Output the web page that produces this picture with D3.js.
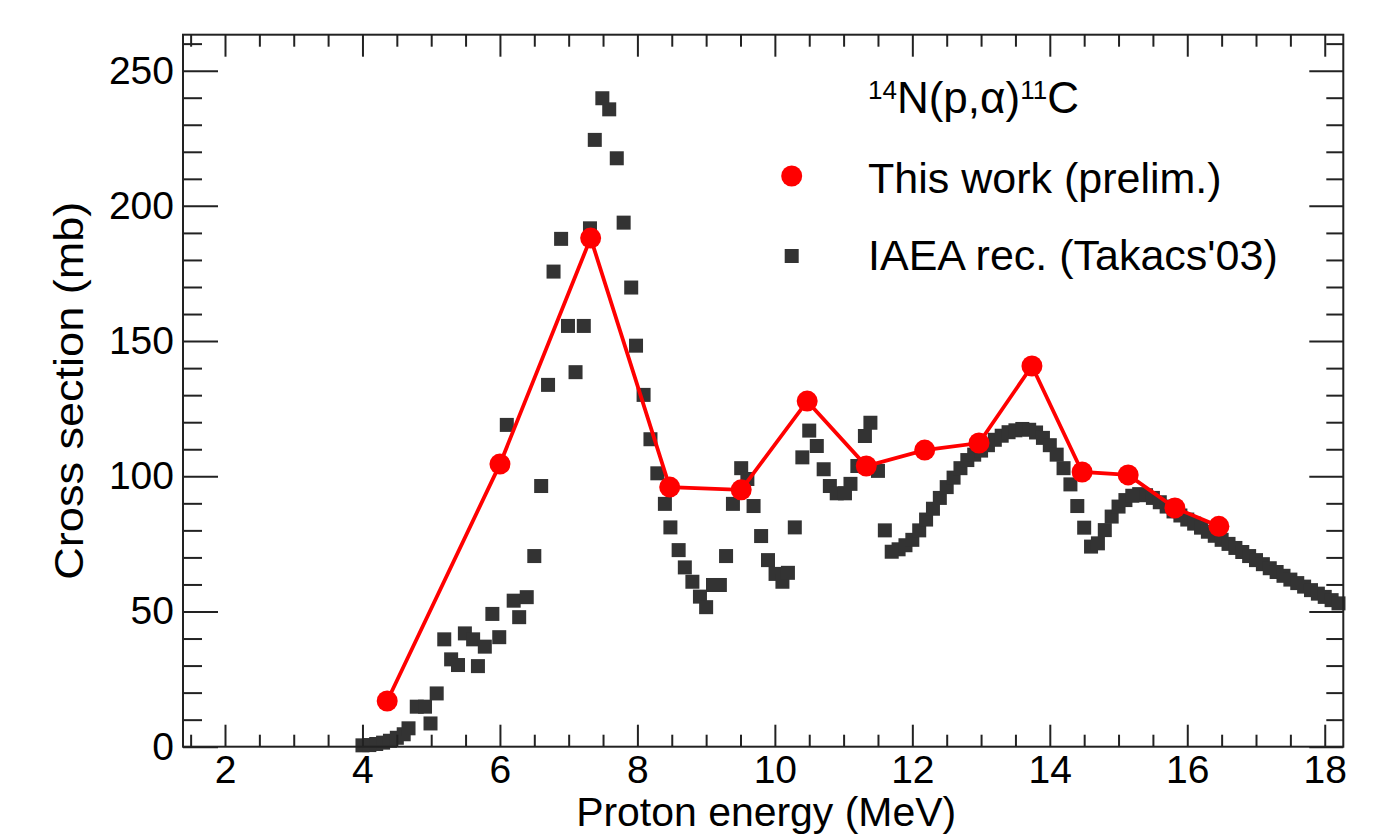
<!DOCTYPE html>
<html>
<head>
<meta charset="utf-8">
<script src="https://cdn.jsdelivr.net/npm/d3@7"></script>
<style>
  body { margin: 0; background: #fff; }
  text { font-family: "Liberation Sans", Arial, Helvetica, sans-serif; fill: #000; }
</style>
</head>
<body>
<script>
    //Data - this work (prelim.)
        const workE  = [4.36, 6.0, 7.32, 8.47, 9.51, 10.47, 11.33, 12.18, 12.97, 13.74, 14.47, 15.14, 15.82, 16.46];
        const workXS = [16.9, 104.5, 188.1, 96.0, 95.0, 127.8, 103.8, 109.7, 112.3, 140.8, 101.6, 100.5, 88.3, 81.5];

    //Data - IAEA recommended (Takacs'03)
        const iaeaE = [4.0, 4.1, 4.2, 4.3, 4.4, 4.5, 4.6, 4.67, 4.79, 4.91, 4.99, 5.08, 5.19, 5.29, 5.39, 5.49,
            5.61, 5.68, 5.78, 5.89, 5.99, 6.1, 6.2, 6.28, 6.39, 6.5, 6.6, 6.7, 6.78, 6.89, 6.99, 7.1, 7.22, 7.31,
            7.38, 7.49, 7.59, 7.7, 7.8, 7.91, 7.98, 8.09, 8.19, 8.29, 8.4, 8.48, 8.6, 8.69, 8.8, 8.91, 9.0, 9.1,
            9.2, 9.29, 9.39, 9.51, 9.6, 9.69, 9.8, 9.9, 10.01, 10.11, 10.19, 10.29, 10.4, 10.5, 10.61, 10.71, 10.8,
            10.9, 11.02, 11.1, 11.2, 11.31, 11.39, 11.5, 11.6, 11.7,
            11.8, 11.9, 12.0, 12.1, 12.2, 12.3, 12.4, 12.5, 12.6, 12.7, 12.8, 12.9, 13.0, 13.1, 13.2, 13.3, 13.4,
            13.5, 13.6, 13.7, 13.8, 13.9, 14.0, 14.1, 14.2, 14.3, 14.4, 14.5, 14.6, 14.7, 14.8, 14.9, 15.0, 15.1,
            15.2, 15.3, 15.4, 15.5, 15.6, 15.7, 15.8, 15.9, 16.0, 16.1, 16.2, 16.3, 16.4, 16.5, 16.6, 16.7, 16.8,
            16.9, 17.0, 17.1, 17.2, 17.3, 17.4, 17.5, 17.6, 17.7, 17.8, 17.9, 18.0, 18.1, 18.2];
        const iaeaXS = [0.5, 0.6, 1.0, 1.5, 2.2, 3.3, 4.6, 6.8, 14.8, 14.8, 8.6, 19.7, 39.7, 32.3, 30.2, 41.9,
            39.7, 29.8, 37.0, 49.1, 40.5, 119.0, 54.0, 47.9, 55.3, 70.5, 96.4, 133.8, 175.7, 187.8, 155.6, 138.5, 155.6, 191.7,
            224.4, 239.8, 235.7, 217.6, 193.8, 169.8, 148.3, 130.1, 113.7, 101.1, 89.8, 81.1, 72.7, 66.3, 61.0, 55.5, 51.6, 59.8,
            59.8, 70.5, 89.8, 103.0, 99.0, 89.0, 77.9, 69.0, 63.9, 61.0, 64.3, 81.1, 107.0, 116.9, 111.2, 102.6, 96.4,
            93.7, 93.7, 97.2, 103.8, 114.9, 119.8, 102.0, 80.0, 72.1,
            73.0, 74.5, 76.5, 80.0, 84.0, 88.0, 92.0, 96.0, 99.5, 103.0, 106.0, 108.0, 109.5, 111.5, 113.5, 115.0, 116.3,
            117.0, 117.5, 117.2, 116.2, 114.2, 111.5, 108.0, 103.0, 97.0, 89.0, 81.0, 74.0, 75.2, 80.1, 85.1, 88.8, 91.2,
            92.8, 93.4, 93.0, 92.0, 90.4, 88.8, 87.0, 85.5, 84.0, 82.5, 81.0, 79.5, 78.0, 76.5, 75.0, 73.5, 72.0,
            70.5, 69.0, 67.5, 66.0, 64.6, 63.2, 61.8, 60.5, 59.2, 57.9, 56.6, 55.4, 54.2, 53.0];

    //Axis ticks and labels
        const xMajor = [2, 4, 6, 8, 10, 12, 14, 16, 18];
        const yMajor = [0, 50, 100, 150, 200, 250];
        const xTitle = "Proton energy (MeV)";
        const yTitle = "Cross section (mb)";
        const legendLabels = ["This work (prelim.)", "IAEA rec. (Takacs'03)"];

    //Declare consts
        const width = 1382;
        const height = 834;
        const plotLeft = 183, plotRight = 1343.3, plotTop = 34.7, plotBottom = 746.7;
        const red = "#ff0000";
        const grey = "#333333";
        const ink = "#222";

    //Scales
        const xScale = d3.scaleLinear()
                        .domain([1.389, 18.27])
                        .range([plotLeft, plotRight]);

        const yScale = d3.scaleLinear()
                        .domain([0, 263.3])
                        .range([plotBottom, plotTop]);

        const xMinor = d3.range(1.5, 18.26, 0.5).filter(v => !xMajor.includes(v));
        const yMinor = d3.range(0, 263, 10).filter(v => !yMajor.includes(v));

    //SVG
        const svg = d3.select("body")
                    .append("svg")
                    .attr("width", width)
                    .attr("height", height);

    //IAEA squares
        const iaea = iaeaE.map((e, i) => ({e: e, xs: iaeaXS[i]}));
        svg.append("g")
            .selectAll("rect")
            .data(iaea)
            .enter()
            .append("rect")
            .attr("x", d => xScale(d.e) - 7)
            .attr("y", d => yScale(d.xs) - 7)
            .attr("width", 14)
            .attr("height", 14)
            .attr("fill", grey);

    //This work - line and circles
        const work = workE.map((e, i) => ({e: e, xs: workXS[i]}));
        const line = d3.line()
                    .x(d => xScale(d.e))
                    .y(d => yScale(d.xs));

        svg.append("path")
            .datum(work)
            .attr("d", line)
            .attr("fill", "none")
            .attr("stroke", red)
            .attr("stroke-width", 3.8);

        svg.append("g")
            .selectAll("circle")
            .data(work)
            .enter()
            .append("circle")
            .attr("cx", d => xScale(d.e))
            .attr("cy", d => yScale(d.xs))
            .attr("r", 10.5)
            .attr("fill", red);

    //Axes - ticks on all four sides, pointing inward
        function styleAxis(g) {
            g.select(".domain").remove();
            g.selectAll("line").attr("stroke", ink).attr("stroke-width", 2);
            g.selectAll("text").attr("font-size", 39).attr("fill", "#000");
        }

        svg.append("g")
            .attr("transform", "translate(0," + plotBottom + ")")
            .call(d3.axisBottom(xScale).tickValues(xMajor).tickSize(-22).tickPadding(9).tickFormat(d3.format("d")))
            .call(styleAxis)
            .call(g => g.selectAll("text").attr("y", 9));
        svg.append("g")
            .attr("transform", "translate(0," + plotBottom + ")")
            .call(d3.axisBottom(xScale).tickValues(xMinor).tickSize(-12).tickFormat(""))
            .call(styleAxis);

        svg.append("g")
            .attr("transform", "translate(0," + plotTop + ")")
            .call(d3.axisTop(xScale).tickValues(xMajor).tickSize(-22).tickFormat(""))
            .call(styleAxis);
        svg.append("g")
            .attr("transform", "translate(0," + plotTop + ")")
            .call(d3.axisTop(xScale).tickValues(xMinor).tickSize(-12).tickFormat(""))
            .call(styleAxis);

        svg.append("g")
            .attr("transform", "translate(" + plotLeft + ",0)")
            .call(d3.axisLeft(yScale).tickValues(yMajor).tickSize(-35).tickPadding(9).tickFormat(d3.format("d")))
            .call(styleAxis)
            .call(g => g.selectAll("text").attr("x", -9));
        svg.append("g")
            .attr("transform", "translate(" + plotLeft + ",0)")
            .call(d3.axisLeft(yScale).tickValues(yMinor).tickSize(-19).tickFormat(""))
            .call(styleAxis);

        svg.append("g")
            .attr("transform", "translate(" + plotRight + ",0)")
            .call(d3.axisRight(yScale).tickValues(yMajor).tickSize(-34).tickFormat(""))
            .call(styleAxis);
        svg.append("g")
            .attr("transform", "translate(" + plotRight + ",0)")
            .call(d3.axisRight(yScale).tickValues(yMinor).tickSize(-17).tickFormat(""))
            .call(styleAxis);

    //Frame
        svg.append("rect")
            .attr("x", plotLeft)
            .attr("y", plotTop)
            .attr("width", plotRight - plotLeft)
            .attr("height", plotBottom - plotTop)
            .attr("fill", "none")
            .attr("stroke", ink)
            .attr("stroke-width", 2);

    //Axis titles
        svg.append("text")
            .attr("x", (plotLeft + plotRight) / 2 + 3)
            .attr("y", 826)
            .attr("text-anchor", "middle")
            .attr("font-size", 40)
            .attr("textLength", 380)
            .attr("lengthAdjust", "spacingAndGlyphs")
            .text(xTitle);

        svg.append("text")
            .attr("transform", "translate(83," + ((plotTop + plotBottom) / 2) + ") rotate(-90)")
            .attr("text-anchor", "middle")
            .attr("font-size", 40)
            .attr("textLength", 378)
            .attr("lengthAdjust", "spacingAndGlyphs")
            .text(yTitle);

    //Legend - reaction title
        const title = svg.append("text")
            .attr("x", 868)
            .attr("y", 113)
            .attr("font-size", 44);
        title.append("tspan").attr("font-size", 26).attr("dy", -14).text("14");
        title.append("tspan").attr("dy", 14).text("N(p,α)");
        title.append("tspan").attr("font-size", 26).attr("dy", -14).text("11");
        title.append("tspan").attr("dy", 14).text("C");

    //Legend - entries
        svg.append("circle")
            .attr("cx", 791.7)
            .attr("cy", 176)
            .attr("r", 10.5)
            .attr("fill", red);
        svg.append("rect")
            .attr("x", 791.7 - 7)
            .attr("y", 256 - 7)
            .attr("width", 14)
            .attr("height", 14)
            .attr("fill", grey);

        svg.selectAll(".legend-label")
            .data(legendLabels)
            .enter()
            .append("text")
            .attr("class", "legend-label")
            .attr("x", 868)
            .attr("y", (d, i) => i === 0 ? 193.3 : 270)
            .attr("font-size", 43)
            .text(d => d);
</script>
</body>
</html>
